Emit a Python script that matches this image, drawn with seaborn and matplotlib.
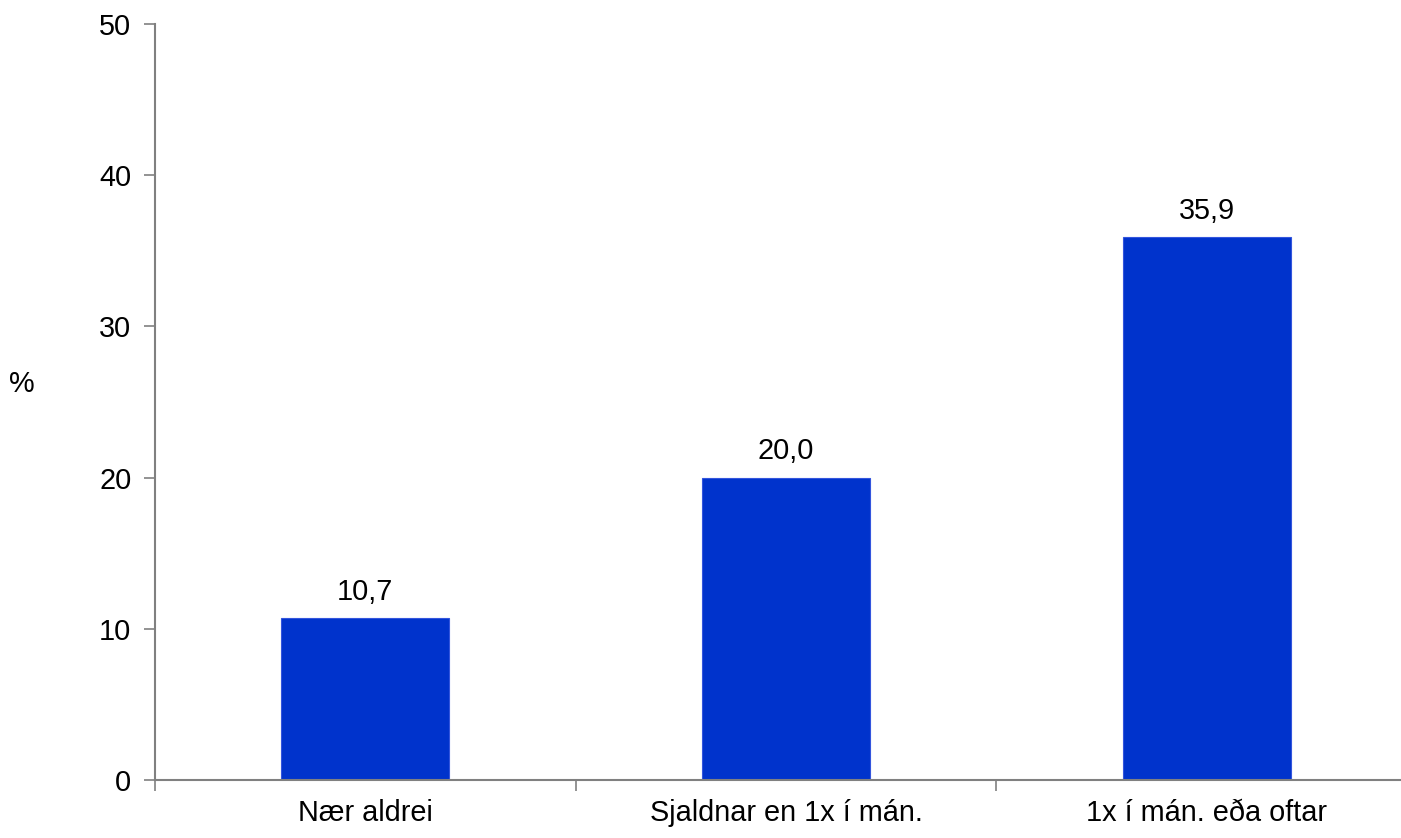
import matplotlib
matplotlib.use("Agg")
import matplotlib.pyplot as plt
import seaborn as sns
import pandas as pd

categories = ["Nær aldrei", "Sjaldnar en 1x í mán.", "1x í mán. eða oftar"]
values = [10.7, 20.0, 35.9]
labels = ["10,7", "20,0", "35,9"]
yticks = [0, 10, 20, 30, 40, 50]

sns.set_theme(style="white")
plt.rcParams['font.family'] = ['Liberation Sans', 'DejaVu Sans']
plt.rcParams['text.color'] = 'black'
plt.rcParams['xtick.color'] = 'black'
plt.rcParams['ytick.color'] = 'black'
plt.rcParams['axes.labelcolor'] = 'black'

FS = 20.8

df = pd.DataFrame({"cat": categories, "val": values})

fig = plt.figure(figsize=(14.01, 8.38), dpi=100)
W, H = 1401, 838
left, right, top, bottom = 155, 1417, 24, 780
ax = fig.add_axes([left / W, 1 - bottom / H, (right - left) / W, (bottom - top) / H])

sns.barplot(data=df, x="cat", y="val", ax=ax, color="#0033CC", width=0.4,
            edgecolor="#3355DD", linewidth=0.8, saturation=1)

ax.set_xlim(-0.5, 2.5)
ax.set_ylim(0, 50)
ax.set_yticks(yticks)
ax.set_yticklabels([str(t) for t in yticks], fontsize=FS)
ax.set_xticks([-0.5, 0.5, 1.5, 2.5], minor=False)
ax.set_xticklabels([])
ax.set_xticks([0, 1, 2], minor=True)
ax.set_xticklabels(categories, minor=True, fontsize=FS)
ax.tick_params(axis="x", which="minor", length=0, pad=14)
ax.tick_params(axis="x", which="major", length=8, width=1.2, color="#808080", direction="out")
ax.tick_params(axis="y", length=8, width=1.2, color="#808080", labelcolor="black", direction="out", pad=9)
ax.xaxis.set_ticks_position("bottom")
ax.yaxis.set_ticks_position("left")

for s in ["top", "right"]:
    ax.spines[s].set_visible(False)
for s in ["left", "bottom"]:
    ax.spines[s].set_color("#808080")
    ax.spines[s].set_linewidth(1.5)

ax.set_xlabel("")
ax.set_ylabel("%", fontsize=FS, rotation=0, labelpad=0)
ax.yaxis.set_label_coords(-133 / (right - left), 0.505)

for i, (v, lab) in enumerate(zip(values, labels)):
    ax.annotate(lab, (i, v), xytext=(0, 9), textcoords="offset points",
                ha="center", va="bottom", fontsize=FS, color="black")

fig.savefig("out.png", dpi=100)
